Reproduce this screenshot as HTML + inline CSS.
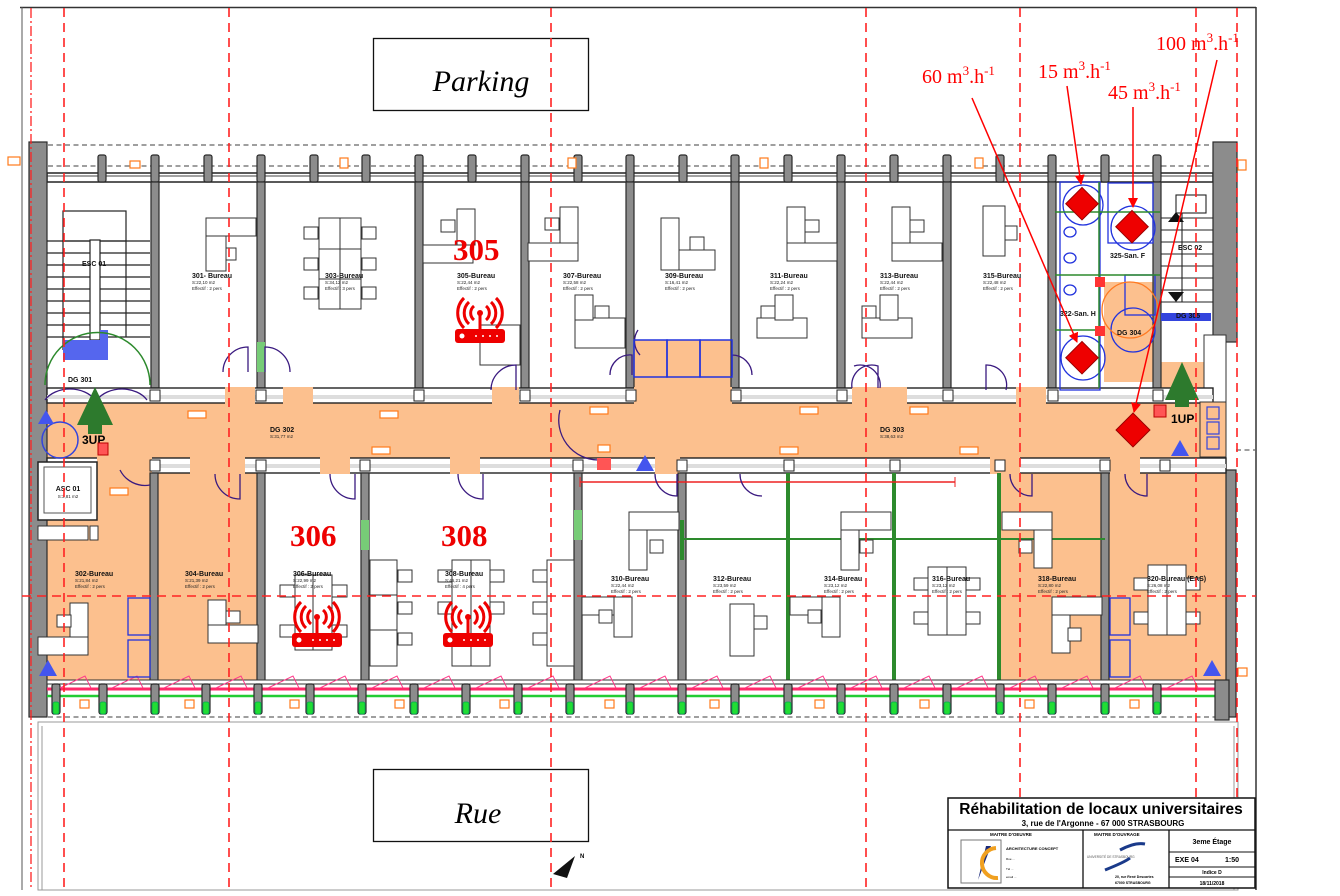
<!DOCTYPE html>
<html><head><meta charset="utf-8"><style>
html,body{margin:0;padding:0;background:#fff}
svg{display:block}
text{font-family:"Liberation Sans",sans-serif}
.w{fill:#8c8c8c;stroke:#2a2a2a;stroke-width:1.2}
.f{fill:#fff;stroke:#333;stroke-width:1}
.lb{font-size:7px;font-weight:bold;fill:#111}
.sm{font-size:4.5px;fill:#222}
.rd{fill:#e00;font-family:"Liberation Serif",serif;font-weight:bold;font-size:31px}
.an{fill:#f00;font-family:"Liberation Serif",serif;font-size:20px}
.dr{stroke:#f22;stroke-width:1.6;stroke-dasharray:9 6;fill:none}
.door{fill:none;stroke:#3a1a80;stroke-width:1.3}
</style></head><body>
<svg width="1340" height="896" viewBox="0 0 1340 896" xmlns="http://www.w3.org/2000/svg">
<defs>
<marker id="ah" markerWidth="10" markerHeight="10" refX="9" refY="5" orient="auto" markerUnits="userSpaceOnUse"><path d="M0,0 L10,5 L0,10 z" fill="#f00"/></marker>
<g id="wifi"><path d="M-6,-14 a9,9 0 0 0 0,14 M6,-14 a9,9 0 0 1 0,14 M-11,-18 a15,15 0 0 0 0,22 M11,-18 a15,15 0 0 1 0,22 M-16,-22 a21,21 0 0 0 0,30 M16,-22 a21,21 0 0 1 0,30" fill="none" stroke="#e00" stroke-width="3"/><circle cx="0" cy="-7" r="3" fill="#e00"/><rect x="-1.5" y="-7" width="3" height="16" fill="#e00"/><rect x="-25" y="9" width="50" height="14" rx="3" fill="#e00"/><circle cx="-18" cy="16" r="2.5" fill="#fff"/><g fill="#fff"><circle cx="-4" cy="16" r="1"/><circle cx="3" cy="16" r="1"/><circle cx="10" cy="16" r="1"/><circle cx="17" cy="16" r="1"/></g></g>
<g id="pt"><rect x="-4" y="0" width="8" height="27" rx="2" class="w"/></g>
<g id="pb"><rect x="-4" y="0" width="8" height="30" rx="2" class="w"/><rect x="-3" y="18" width="6" height="12" rx="2" fill="#22dd33" stroke="#0a5" stroke-width=".8"/></g>
<g id="dk"><rect x="0" y="0" width="26" height="50" class="f"/><rect x="-26" y="0" width="52" height="18" class="f"/><rect x="26" y="26" width="10" height="14" class="f"/></g>
</defs>

<!-- outer frame -->
<line x1="20" y1="7.5" x2="1256" y2="7.5" stroke="#333" stroke-width="1.5"/>
<line x1="22" y1="7" x2="22" y2="890" stroke="#555" stroke-width="1"/>
<line x1="1256" y1="7" x2="1256" y2="890" stroke="#333" stroke-width="1.5"/>

<!-- Parking / Rue -->
<rect x="373.5" y="38.5" width="215" height="72" fill="#fff" stroke="#111" stroke-width="1.3"/>
<text x="481" y="91" text-anchor="middle" style="font-family:'Liberation Serif',serif;font-style:italic;font-size:30px">Parking</text>
<rect x="373.5" y="769.5" width="215" height="72" fill="#fff" stroke="#111" stroke-width="1.3"/>
<text x="478" y="823" text-anchor="middle" style="font-family:'Liberation Serif',serif;font-style:italic;font-size:30px">Rue</text>

<!-- grey dashed facade lines -->
<g stroke="#666" stroke-width="1.3" stroke-dasharray="5 3.5">
<line x1="48" y1="145" x2="1215" y2="145"/><line x1="48" y1="166" x2="1215" y2="166"/>
<line x1="48" y1="717" x2="1228" y2="717"/>
<line x1="1236" y1="450" x2="1256" y2="450"/>
</g>

<!-- corridor & orange rooms -->
<rect x="47" y="403" width="1166" height="58" fill="#fcc08e"/>
<rect x="47" y="520" width="107" height="162" fill="#fcc08e"/>
<rect x="47" y="461" width="110" height="60" fill="#fcc08e"/>
<rect x="158" y="473" width="103" height="209" fill="#fcc08e"/>
<rect x="1000" y="473" width="105" height="209" fill="#fcc08e"/>
<rect x="1105" y="473" width="121" height="209" fill="#fcc08e"/>
<rect x="1157" y="362" width="56" height="45" fill="#fcc08e"/>
<rect x="1104" y="282" width="50" height="100" fill="#fcc08e"/>
<rect x="634" y="340" width="98" height="50" fill="#fcc08e"/>

<!-- top wall -->
<rect x="47" y="173" width="1166" height="9" fill="#fff" stroke="#222" stroke-width="1.5"/>
<line x1="47" y1="176" x2="1213" y2="176" stroke="#444" stroke-width="1"/>
<!-- left and right outer walls -->
<rect x="29" y="142" width="18" height="575" class="w"/>
<rect x="1213" y="142" width="24" height="200" class="w"/>
<rect x="1226" y="470" width="10" height="247" class="w"/>
<rect x="1204" y="335" width="22" height="125" fill="#fff" stroke="#333"/>

<!-- top pillars -->
<g>
<use href="#pt" x="102" y="155"/><use href="#pt" x="155" y="155"/><use href="#pt" x="208" y="155"/><use href="#pt" x="261" y="155"/><use href="#pt" x="314" y="155"/><use href="#pt" x="366" y="155"/><use href="#pt" x="419" y="155"/><use href="#pt" x="472" y="155"/><use href="#pt" x="525" y="155"/><use href="#pt" x="578" y="155"/><use href="#pt" x="630" y="155"/><use href="#pt" x="683" y="155"/><use href="#pt" x="735" y="155"/><use href="#pt" x="788" y="155"/><use href="#pt" x="841" y="155"/><use href="#pt" x="894" y="155"/><use href="#pt" x="947" y="155"/><use href="#pt" x="1000" y="155"/><use href="#pt" x="1052" y="155"/><use href="#pt" x="1105" y="155"/><use href="#pt" x="1157" y="155"/>
</g>

<!-- top partitions -->
<g class="w">
<rect x="151" y="182" width="8" height="206"/><rect x="257" y="182" width="8" height="206"/><rect x="415" y="182" width="8" height="206"/><rect x="521" y="182" width="8" height="206"/><rect x="626" y="182" width="8" height="206"/><rect x="731" y="182" width="8" height="206"/><rect x="837" y="182" width="8" height="206"/><rect x="943" y="182" width="8" height="206"/><rect x="1048" y="182" width="8" height="206"/><rect x="1153" y="182" width="8" height="206"/>
</g>
<rect x="257" y="342" width="8" height="30" fill="#7c7"/>
<!-- corridor top wall -->
<g>
<rect x="47" y="388" width="1166" height="15" fill="#fff" stroke="#222" stroke-width="1.4"/>
<rect x="47" y="395" width="1166" height="4" fill="#ddd"/>
</g>
<!-- door openings (white gaps) -->
<g fill="#fcc08e">
<rect x="225" y="387" width="30" height="17"/><rect x="283" y="387" width="30" height="17"/><rect x="492" y="387" width="27" height="17"/><rect x="634" y="387" width="98" height="17"/><rect x="852" y="387" width="55" height="17"/><rect x="1016" y="387" width="30" height="17"/>
</g>
<!-- corridor bottom wall -->
<rect x="47" y="458" width="1179" height="15" fill="#fff" stroke="#222" stroke-width="1.4"/>
<rect x="47" y="464" width="1179" height="4" fill="#ddd"/>
<g fill="#fcc08e"><rect x="97" y="457" width="55" height="17"/><rect x="190" y="457" width="55" height="17"/><rect x="320" y="457" width="30" height="17"/><rect x="450" y="457" width="30" height="17"/><rect x="655" y="457" width="25" height="17"/><rect x="990" y="457" width="30" height="17"/><rect x="1110" y="457" width="30" height="17"/></g>

<!-- small X boxes on walls -->
<g fill="#fff" stroke="#222" stroke-width="1">
<rect x="150" y="390" width="10" height="11"/><rect x="256" y="390" width="10" height="11"/><rect x="414" y="390" width="10" height="11"/><rect x="520" y="390" width="10" height="11"/><rect x="626" y="390" width="10" height="11"/><rect x="731" y="390" width="10" height="11"/><rect x="837" y="390" width="10" height="11"/><rect x="943" y="390" width="10" height="11"/><rect x="1048" y="390" width="10" height="11"/><rect x="1153" y="390" width="10" height="11"/>
<rect x="150" y="460" width="10" height="11"/><rect x="256" y="460" width="10" height="11"/><rect x="360" y="460" width="10" height="11"/><rect x="573" y="460" width="10" height="11"/><rect x="677" y="460" width="10" height="11"/><rect x="784" y="460" width="10" height="11"/><rect x="890" y="460" width="10" height="11"/><rect x="995" y="460" width="10" height="11"/><rect x="1100" y="460" width="10" height="11"/><rect x="1160" y="460" width="10" height="11"/>
</g>

<!-- bottom partitions -->
<g class="w">
<rect x="150" y="473" width="8" height="210"/><rect x="257" y="473" width="8" height="210"/><rect x="361" y="473" width="8" height="210"/><rect x="574" y="473" width="8" height="210"/><rect x="678" y="473" width="8" height="210"/><rect x="1101" y="473" width="8" height="210"/>
</g>
<g fill="#2d8a2d"><rect x="786" y="473" width="4" height="210"/><rect x="892" y="473" width="4" height="210"/><rect x="997" y="473" width="4" height="210"/><rect x="680" y="520" width="4" height="40"/></g>
<rect x="361" y="520" width="8" height="30" fill="#7c7"/><rect x="574" y="510" width="8" height="30" fill="#7c7"/>
<line x1="682" y1="539" x2="1105" y2="539" stroke="#2d8a2d" stroke-width="2"/>
<line x1="580" y1="482" x2="955" y2="482" stroke="#e22" stroke-width="1.5"/>
<line x1="580" y1="477" x2="580" y2="487" stroke="#e22"/><line x1="955" y1="477" x2="955" y2="487" stroke="#e22"/>

<!-- bottom facade -->
<rect x="47" y="680" width="1180" height="4" fill="#fff" stroke="#333" stroke-width="1"/>
<line x1="47" y1="689" x2="1226" y2="689" stroke="#ff2a6a" stroke-width="3"/>
<line x1="47" y1="696" x2="1226" y2="696" stroke="#22cc33" stroke-width="2.5"/>
<g>
<use href="#pb" x="56" y="684"/><use href="#pb" x="103" y="684"/><use href="#pb" x="155" y="684"/><use href="#pb" x="206" y="684"/><use href="#pb" x="258" y="684"/><use href="#pb" x="310" y="684"/><use href="#pb" x="362" y="684"/><use href="#pb" x="414" y="684"/><use href="#pb" x="466" y="684"/><use href="#pb" x="518" y="684"/><use href="#pb" x="570" y="684"/><use href="#pb" x="630" y="684"/><use href="#pb" x="682" y="684"/><use href="#pb" x="735" y="684"/><use href="#pb" x="788" y="684"/><use href="#pb" x="841" y="684"/><use href="#pb" x="894" y="684"/><use href="#pb" x="947" y="684"/><use href="#pb" x="1000" y="684"/><use href="#pb" x="1052" y="684"/><use href="#pb" x="1105" y="684"/><use href="#pb" x="1157" y="684"/>
</g>
<rect x="1215" y="680" width="14" height="40" class="w"/>
<!-- pink window swings -->
<g fill="none" stroke="#ff3a8a" stroke-width="1">
<path d="M60,688 l25,-12 l6,12 M112,688 l25,-12 l6,12 M164,688 l25,-12 l6,12 M216,688 l25,-12 l6,12 M268,688 l25,-12 l6,12 M320,688 l25,-12 l6,12 M372,688 l25,-12 l6,12 M424,688 l25,-12 l6,12 M476,688 l25,-12 l6,12 M528,688 l25,-12 l6,12 M585,688 l25,-12 l6,12 M640,688 l25,-12 l6,12 M692,688 l25,-12 l6,12 M745,688 l25,-12 l6,12 M798,688 l25,-12 l6,12 M851,688 l25,-12 l6,12 M904,688 l25,-12 l6,12 M957,688 l25,-12 l6,12 M1010,688 l25,-12 l6,12 M1062,688 l25,-12 l6,12 M1115,688 l25,-12 l6,12 M1167,688 l25,-12 l6,12"/>
</g>
<!-- bottom ground lines -->
<rect x="38" y="722" width="1200" height="168" fill="none" stroke="#999" stroke-width="1"/>
<line x1="42" y1="726" x2="42" y2="890" stroke="#999"/><line x1="1234" y1="726" x2="1234" y2="890" stroke="#999"/>

<!-- left stair -->
<g stroke="#222" stroke-width="1.2" fill="none">
<rect x="63" y="211" width="63" height="30"/>
<path d="M47,241 h103 M47,253 h103 M47,265 h103 M47,277 h103 M47,289 h103 M47,301 h103 M47,313 h103 M47,325 h103 M47,337 h103"/>
<line x1="63" y1="241" x2="63" y2="350"/><line x1="126" y1="241" x2="126" y2="337"/>
<rect x="90" y="240" width="10" height="100" fill="#fff"/>
</g>
<path d="M63,340 h37 v-10 h8 v30 h-45 z" fill="#5566ee"/>
<path d="M45,385 a50,50 0 0 1 105,0" fill="none" stroke="#2d8a2d" stroke-width="1.5"/>
<path d="M45,400 a28,20 0 0 1 50,0 M97,400 a28,20 0 0 1 50,0" class="door"/>
<rect x="38" y="462" width="59" height="58" fill="#fff" stroke="#222" stroke-width="1.5"/>
<rect x="44" y="467" width="47" height="46" fill="#fff" stroke="#555"/>
<text x="68" y="491" class="lb" text-anchor="middle">ASC 01</text>
<text x="68" y="498" class="sm" text-anchor="middle">S:3,81 m2</text>
<rect x="38" y="526" width="50" height="14" fill="#fff" stroke="#333"/><rect x="90" y="526" width="8" height="14" fill="#fff" stroke="#333"/>
<text x="82" y="266" class="lb">ESC 01</text>
<text x="68" y="382" class="lb">DG 301</text>
<!-- 3UP arrow -->
<path d="M95,387 l18,38 h-36 z" fill="#2d7a2d"/><rect x="88" y="420" width="14" height="14" fill="#2d7a2d"/>
<circle cx="60" cy="440" r="18" fill="none" stroke="#3344dd" stroke-width="1.5"/>
<text x="82" y="444" style="font-size:12px;font-weight:bold">3UP</text>
<rect x="98" y="443" width="10" height="12" fill="#f55" stroke="#b00"/>
<path d="M46,410 l8,14 h-16 z" fill="#4455ee"/>
<path d="M48,660 l9,16 h-18 z" fill="#4455ee"/><path d="M1212,660 l9,16 h-18 z" fill="#4455ee"/><path d="M1180,440 l9,16 h-18 z" fill="#4455ee"/><path d="M645,455 l9,16 h-18 z" fill="#4455ee"/>

<!-- right stair -->
<g stroke="#222" stroke-width="1.1" fill="none">
<rect x="1176" y="195" width="30" height="18"/>
<path d="M1161,218 h52 M1161,230 h52 M1161,242 h52 M1161,254 h52 M1161,266 h52 M1161,278 h52 M1161,290 h52 M1161,302 h52"/>
<line x1="1182" y1="213" x2="1182" y2="302"/>
</g>
<path d="M1168,222 l8,-10 l8,10 z M1168,292 l8,10 l8,-10z" fill="#111"/>
<text x="1178" y="250" class="lb">ESC 02</text>
<rect x="1161" y="313" width="50" height="8" fill="#3344dd"/>
<text x="1176" y="318" class="lb">DG 305</text>
<!-- 1UP -->
<path d="M1182,362 l17,38 h-34 z" fill="#2d7a2d"/><rect x="1175" y="395" width="14" height="12" fill="#2d7a2d"/>
<text x="1171" y="423" style="font-size:12px;font-weight:bold">1UP</text>
<rect x="1154" y="405" width="12" height="12" fill="#f55" stroke="#b00"/>
<rect x="1200" y="402" width="26" height="55" fill="#fcc08e" stroke="#333"/>
<g fill="none" stroke="#3344dd" stroke-width="1.2"><rect x="1207" y="407" width="12" height="12"/><rect x="1207" y="422" width="12" height="12"/><rect x="1207" y="437" width="12" height="12"/></g>

<!-- sanitaires -->
<g fill="none" stroke="#2233dd" stroke-width="1.3">
<rect x="1060" y="182" width="40" height="208"/>
<rect x="1108" y="183" width="45" height="60"/>
<rect x="1125" y="275" width="30" height="40"/>
<circle cx="1083" cy="205" r="20"/><circle cx="1133" cy="228" r="22"/><circle cx="1083" cy="358" r="22"/><circle cx="1133" cy="330" r="22"/>
<ellipse cx="1070" cy="232" rx="6" ry="5"/><ellipse cx="1070" cy="258" rx="6" ry="5"/><ellipse cx="1070" cy="290" rx="6" ry="5"/>
</g>
<g stroke="#2d8a2d" stroke-width="1.5"><line x1="1055" y1="212" x2="1160" y2="212"/><line x1="1055" y1="275" x2="1160" y2="275"/><line x1="1055" y1="330" x2="1105" y2="330"/><line x1="1099" y1="182" x2="1099" y2="388"/></g>
<circle cx="1130" cy="310" r="28" fill="none" stroke="#ff7a22" stroke-width="1.3"/>
<text x="1117" y="335" class="lb">DG 304</text>
<text x="1110" y="258" class="lb">325-San. F</text>
<text x="1060" y="316" class="lb">322-San. H</text>
<rect x="1095" y="277" width="10" height="10" fill="#f33"/><rect x="1095" y="326" width="10" height="10" fill="#f33"/>

<!-- furniture top rooms -->
<g class="f">
<rect x="206" y="218" width="50" height="18"/><rect x="206" y="236" width="20" height="35"/><rect x="226" y="248" width="10" height="12"/>
<rect x="319" y="218" width="42" height="91"/><line x1="340" y1="218" x2="340" y2="309"/><line x1="319" y1="249" x2="361" y2="249"/><line x1="319" y1="279" x2="361" y2="279"/>
<rect x="304" y="227" width="14" height="12"/><rect x="362" y="227" width="14" height="12"/><rect x="304" y="258" width="14" height="12"/><rect x="362" y="258" width="14" height="12"/><rect x="304" y="287" width="14" height="12"/><rect x="362" y="287" width="14" height="12"/>
<rect x="423" y="245" width="50" height="18"/><rect x="457" y="209" width="18" height="36"/><rect x="441" y="220" width="14" height="12"/>
<rect x="480" y="325" width="40" height="40"/>
<rect x="528" y="243" width="50" height="18"/><rect x="560" y="207" width="18" height="36"/><rect x="545" y="218" width="14" height="12"/>
<rect x="575" y="318" width="50" height="30"/><rect x="575" y="295" width="18" height="25"/><rect x="595" y="306" width="14" height="12"/>
<rect x="661" y="218" width="18" height="52"/><rect x="679" y="250" width="36" height="20"/><rect x="690" y="237" width="14" height="13"/>
<rect x="787" y="207" width="18" height="52"/><rect x="787" y="243" width="50" height="18"/><rect x="805" y="220" width="14" height="12"/>
<rect x="757" y="318" width="50" height="20"/><rect x="775" y="295" width="18" height="25"/><rect x="761" y="306" width="14" height="12"/>
<rect x="892" y="207" width="18" height="52"/><rect x="892" y="243" width="50" height="18"/><rect x="910" y="220" width="14" height="12"/>
<rect x="862" y="318" width="50" height="20"/><rect x="880" y="295" width="18" height="25"/><rect x="862" y="306" width="14" height="12"/>
<rect x="983" y="206" width="22" height="50"/><rect x="1005" y="226" width="12" height="14"/>
</g>
<!-- door swings top -->
<g class="door">
<path d="M223,372 a25,25 0 0 1 25,-25 v25 M290,372 a25,25 0 0 0 -25,-25 v25 M491,390 a25,25 0 0 1 25,-25 v25 M610,375 a20,20 0 0 1 22,-20 v20 M752,375 a20,20 0 0 0 -20,-20 v20 M640,355 a20,20 0 0 1 -2,-25 M852,388 a20,20 0 0 1 26,-22 v22 M880,388 a20,20 0 0 0 -26,-22 M1006,390 a20,20 0 0 0 -20,-25 v25"/>
<path d="M120,470 a28,28 0 0 0 30,15 M215,474 a25,25 0 0 0 25,25 v-25 M330,474 a25,25 0 0 0 25,25 v-25 M458,474 a25,25 0 0 0 25,25 v-25 M655,474 a22,22 0 0 0 22,22 v-22 M740,474 a22,22 0 0 0 22,22 M1010,474 a22,22 0 0 0 22,22 v-22 M1125,474 a22,22 0 0 0 22,22 v-22 M560,410 a40,40 0 0 0 38,50"/>
</g>
<g fill="none" stroke="#2233dd" stroke-width="1.5"><rect x="634" y="340" width="33" height="37"/><rect x="667" y="340" width="33" height="37"/><rect x="700" y="340" width="32" height="37"/></g>

<!-- furniture bottom rooms -->
<g class="f">
<rect x="70" y="603" width="18" height="38"/><rect x="38" y="640" width="50" height="18" style="display:none"/><rect x="38" y="637" width="50" height="18"/><rect x="57" y="615" width="14" height="12"/>
<rect x="208" y="600" width="18" height="38"/><rect x="208" y="625" width="50" height="18"/><rect x="226" y="611" width="14" height="12"/>
<rect x="295" y="575" width="37" height="75"/><line x1="313" y1="575" x2="313" y2="650"/>
<rect x="280" y="585" width="15" height="12"/><rect x="332" y="585" width="15" height="12"/><rect x="280" y="625" width="15" height="12"/><rect x="332" y="625" width="15" height="12"/>
<rect x="370" y="560" width="27" height="106"/><line x1="370" y1="595" x2="397" y2="595"/><line x1="370" y1="630" x2="397" y2="630"/>
<rect x="398" y="570" width="14" height="12"/><rect x="398" y="602" width="14" height="12"/><rect x="398" y="633" width="14" height="12"/>
<rect x="452" y="560" width="38" height="106"/><line x1="471" y1="560" x2="471" y2="666"/>
<rect x="438" y="570" width="14" height="12"/><rect x="490" y="570" width="14" height="12"/><rect x="438" y="602" width="14" height="12"/><rect x="490" y="602" width="14" height="12"/>
<rect x="547" y="560" width="27" height="106"/><rect x="533" y="570" width="14" height="12"/><rect x="533" y="602" width="14" height="12"/><rect x="533" y="633" width="14" height="12"/>
<rect x="629" y="512" width="50" height="18"/><rect x="629" y="530" width="18" height="40"/><rect x="650" y="540" width="13" height="13"/>
<rect x="582" y="597" width="50" height="18"/><rect x="614" y="597" width="18" height="40"/><rect x="599" y="610" width="13" height="13"/>
<rect x="730" y="604" width="24" height="52"/><rect x="754" y="616" width="13" height="13"/>
<rect x="841" y="512" width="50" height="18"/><rect x="841" y="530" width="18" height="40"/><rect x="860" y="540" width="13" height="13"/>
<rect x="790" y="597" width="50" height="18"/><rect x="822" y="597" width="18" height="40"/><rect x="808" y="610" width="13" height="13"/>
<rect x="928" y="567" width="38" height="68"/><line x1="947" y1="567" x2="947" y2="635"/>
<rect x="914" y="578" width="14" height="12"/><rect x="966" y="578" width="14" height="12"/><rect x="914" y="612" width="14" height="12"/><rect x="966" y="612" width="14" height="12"/>
<rect x="1002" y="512" width="50" height="18"/><rect x="1034" y="530" width="18" height="38"/><rect x="1019" y="540" width="13" height="13"/>
<rect x="1052" y="597" width="50" height="18"/><rect x="1052" y="615" width="18" height="38"/><rect x="1068" y="628" width="13" height="13"/>
<rect x="1148" y="565" width="38" height="70"/><line x1="1167" y1="565" x2="1167" y2="635"/>
<rect x="1134" y="578" width="14" height="12"/><rect x="1186" y="578" width="14" height="12"/><rect x="1134" y="612" width="14" height="12"/><rect x="1186" y="612" width="14" height="12"/>
</g>
<g fill="none" stroke="#2233dd" stroke-width="1.3"><rect x="128" y="598" width="22" height="37"/><rect x="128" y="640" width="22" height="37"/><rect x="1110" y="598" width="20" height="37"/><rect x="1110" y="640" width="20" height="37"/></g>

<!-- orange small tags -->
<g fill="#fff" stroke="#ff7a1a" stroke-width="1.2">
<rect x="8" y="157" width="12" height="8"/><rect x="130" y="161" width="10" height="7"/><rect x="340" y="158" width="8" height="10"/><rect x="568" y="158" width="8" height="10"/><rect x="760" y="158" width="8" height="10"/><rect x="975" y="158" width="8" height="10"/><rect x="1238" y="160" width="8" height="10"/>
<rect x="188" y="411" width="18" height="7"/><rect x="380" y="411" width="18" height="7"/><rect x="590" y="407" width="18" height="7"/><rect x="800" y="407" width="18" height="7"/><rect x="910" y="407" width="18" height="7"/>
<rect x="110" y="488" width="18" height="7"/><rect x="372" y="447" width="18" height="7"/><rect x="598" y="445" width="12" height="7"/><rect x="780" y="447" width="18" height="7"/><rect x="960" y="447" width="18" height="7"/>
<rect x="80" y="700" width="9" height="8"/><rect x="185" y="700" width="9" height="8"/><rect x="290" y="700" width="9" height="8"/><rect x="395" y="700" width="9" height="8"/><rect x="500" y="700" width="9" height="8"/><rect x="605" y="700" width="9" height="8"/><rect x="710" y="700" width="9" height="8"/><rect x="815" y="700" width="9" height="8"/><rect x="920" y="700" width="9" height="8"/><rect x="1025" y="700" width="9" height="8"/><rect x="1130" y="700" width="9" height="8"/><rect x="1238" y="668" width="9" height="8"/>
</g>
<rect x="597" y="458" width="14" height="12" fill="#f55"/>

<!-- room labels -->
<g>
<text x="192" y="278" class="lb">301- Bureau</text><text x="192" y="284" class="sm">S:22,10 m2</text><text x="192" y="290" class="sm">Effectif : 2 pers</text>
<text x="325" y="278" class="lb">303-Bureau</text><text x="325" y="284" class="sm">S:34,12 m2</text><text x="325" y="290" class="sm">Effectif : 3 pers</text>
<text x="457" y="278" class="lb">305-Bureau</text><text x="457" y="284" class="sm">S:22,44 m2</text><text x="457" y="290" class="sm">Effectif : 2 pers</text>
<text x="563" y="278" class="lb">307-Bureau</text><text x="563" y="284" class="sm">S:22,58 m2</text><text x="563" y="290" class="sm">Effectif : 2 pers</text>
<text x="665" y="278" class="lb">309-Bureau</text><text x="665" y="284" class="sm">S:16,41 m2</text><text x="665" y="290" class="sm">Effectif : 2 pers</text>
<text x="770" y="278" class="lb">311-Bureau</text><text x="770" y="284" class="sm">S:22,24 m2</text><text x="770" y="290" class="sm">Effectif : 2 pers</text>
<text x="880" y="278" class="lb">313-Bureau</text><text x="880" y="284" class="sm">S:22,44 m2</text><text x="880" y="290" class="sm">Effectif : 2 pers</text>
<text x="983" y="278" class="lb">315-Bureau</text><text x="983" y="284" class="sm">S:22,48 m2</text><text x="983" y="290" class="sm">Effectif : 2 pers</text>
<text x="75" y="576" class="lb">302-Bureau</text><text x="75" y="582" class="sm">S:21,84 m2</text><text x="75" y="588" class="sm">Effectif : 2 pers</text>
<text x="185" y="576" class="lb">304-Bureau</text><text x="185" y="582" class="sm">S:21,39 m2</text><text x="185" y="588" class="sm">Effectif : 2 pers</text>
<text x="293" y="576" class="lb">306-Bureau</text><text x="293" y="582" class="sm">S:22,99 m2</text><text x="293" y="588" class="sm">Effectif : 2 pers</text>
<text x="445" y="576" class="lb">308-Bureau</text><text x="445" y="582" class="sm">S:45,21 m2</text><text x="445" y="588" class="sm">Effectif : 4 pers</text>
<text x="611" y="581" class="lb">310-Bureau</text><text x="611" y="587" class="sm">S:22,44 m2</text><text x="611" y="593" class="sm">Effectif : 2 pers</text>
<text x="713" y="581" class="lb">312-Bureau</text><text x="713" y="587" class="sm">S:23,59 m2</text><text x="713" y="593" class="sm">Effectif : 2 pers</text>
<text x="824" y="581" class="lb">314-Bureau</text><text x="824" y="587" class="sm">S:23,12 m2</text><text x="824" y="593" class="sm">Effectif : 2 pers</text>
<text x="932" y="581" class="lb">316-Bureau</text><text x="932" y="587" class="sm">S:23,12 m2</text><text x="932" y="593" class="sm">Effectif : 2 pers</text>
<text x="1038" y="581" class="lb">318-Bureau</text><text x="1038" y="587" class="sm">S:22,80 m2</text><text x="1038" y="593" class="sm">Effectif : 2 pers</text>
<text x="1147" y="581" class="lb">320-Bureau (EAS)</text><text x="1147" y="587" class="sm">S:26,08 m2</text><text x="1147" y="593" class="sm">Effectif : 2 pers</text>
<text x="270" y="432" class="lb">DG 302</text><text x="270" y="438" class="sm">S:31,77 m2</text>
<text x="880" y="432" class="lb">DG 303</text><text x="880" y="438" class="sm">S:38,63 m2</text>
</g>

<!-- red dashed grid -->
<g class="dr">
<line x1="64" y1="8" x2="64" y2="890"/><line x1="229" y1="8" x2="229" y2="890"/><line x1="551" y1="8" x2="551" y2="890"/><line x1="866" y1="8" x2="866" y2="890"/><line x1="1020" y1="8" x2="1020" y2="890"/><line x1="1196" y1="8" x2="1196" y2="890"/><line x1="1237" y1="8" x2="1237" y2="890"/>
<line x1="22" y1="596" x2="1256" y2="596"/>
</g>
<line x1="31" y1="8" x2="31" y2="890" stroke="#f22" stroke-width="1.3" stroke-dasharray="10 3 2 3"/>

<!-- big labels & wifi -->
<text x="453" y="260" class="rd">305</text>
<text x="290" y="546" class="rd">306</text>
<text x="441" y="546" class="rd">308</text>
<use href="#wifi" x="480" y="320"/>
<use href="#wifi" x="317" y="624"/>
<use href="#wifi" x="468" y="624"/>

<!-- annotations -->
<g>
<text x="922" y="83" class="an">60 m<tspan font-size="13" dy="-8">3</tspan><tspan dy="8">.h</tspan><tspan font-size="13" dy="-8">-1</tspan></text>
<text x="1038" y="78" class="an">15 m<tspan font-size="13" dy="-8">3</tspan><tspan dy="8">.h</tspan><tspan font-size="13" dy="-8">-1</tspan></text>
<text x="1108" y="99" class="an">45 m<tspan font-size="13" dy="-8">3</tspan><tspan dy="8">.h</tspan><tspan font-size="13" dy="-8">-1</tspan></text>
<text x="1156" y="50" class="an">100 m<tspan font-size="13" dy="-8">3</tspan><tspan dy="8">.h</tspan><tspan font-size="13" dy="-8">-1</tspan></text>
</g>
<g stroke="#f00" stroke-width="1.5" marker-end="url(#ah)">
<line x1="972" y1="98" x2="1077" y2="342"/>
<line x1="1067" y1="86" x2="1081" y2="184"/>
<line x1="1133" y1="107" x2="1133" y2="207"/>
<line x1="1217" y1="60" x2="1134" y2="412"/>
</g>
<g fill="#e00" stroke="#900" stroke-width="1">
<rect x="1071" y="192" width="23" height="23" transform="rotate(45 1082 203)"/>
<rect x="1121" y="215" width="23" height="23" transform="rotate(45 1132 226)"/>
<rect x="1071" y="346" width="23" height="23" transform="rotate(45 1082 357)"/>
<rect x="1121" y="418" width="24" height="24" transform="rotate(45 1133 430)"/>
</g>

<!-- north arrow -->
<path d="M553,874 l22,-18 l-8,22 z" fill="#111"/>
<text x="580" y="858" style="font-size:6px;font-weight:bold">N</text>

<!-- title block -->
<g>
<rect x="948" y="798" width="307" height="90" fill="#fff" stroke="#111" stroke-width="1.5"/>
<line x1="948" y1="830" x2="1255" y2="830" stroke="#111" stroke-width="1.3"/>
<line x1="1083" y1="830" x2="1083" y2="888" stroke="#111" stroke-width="1.3"/>
<line x1="1169" y1="830" x2="1169" y2="888" stroke="#111" stroke-width="1.3"/>
<line x1="1169" y1="852" x2="1255" y2="852" stroke="#111"/>
<line x1="1169" y1="867" x2="1255" y2="867" stroke="#111"/>
<line x1="1169" y1="877" x2="1255" y2="877" stroke="#111"/>
<text x="1101" y="814" text-anchor="middle" style="font-size:15.5px;font-weight:bold">Réhabilitation de locaux universitaires</text>
<text x="1103" y="826" text-anchor="middle" style="font-size:8px;font-weight:bold">3, rue de l'Argonne - 67 000 STRASBOURG</text>
<text x="990" y="836" style="font-size:4.5px;font-weight:bold">MAITRE D'OEUVRE</text>
<text x="1094" y="836" style="font-size:4.5px;font-weight:bold">MAITRE D'OUVRAGE</text>
<rect x="961" y="840" width="40" height="43" fill="#fff" stroke="#777"/>
<path d="M978,880 l8,-34 l5,0 z" fill="#1a2a7a"/><path d="M996,848 a14,14 0 1 0 2,30" fill="none" stroke="#f0a020" stroke-width="4"/>
<text x="1006" y="850" style="font-size:4px;font-weight:bold">ARCHITECTURE CONCEPT</text>
<text x="1006" y="860" style="font-size:3px">Rue ...</text><text x="1006" y="870" style="font-size:3px">Tél ...</text><text x="1006" y="878" style="font-size:3px">email ...</text>
<text x="1087" y="858" style="font-size:3.2px;fill:#555">UNIVERSITÉ DE STRASBOURG</text>
<path d="M1120,850 q15,-8 25,-6 M1105,870 q20,-8 25,-12" fill="none" stroke="#1a3a8a" stroke-width="3"/>
<text x="1115" y="878" style="font-size:3.5px;font-weight:bold">20, rue René Descartes</text>
<text x="1115" y="884" style="font-size:3.5px;font-weight:bold">67000 STRASBOURG</text>
<text x="1212" y="844" text-anchor="middle" style="font-size:7px;font-weight:bold">3eme Étage</text>
<text x="1175" y="862" style="font-size:7px;font-weight:bold">EXE 04</text><text x="1225" y="862" style="font-size:7px;font-weight:bold">1:50</text>
<text x="1212" y="874" text-anchor="middle" style="font-size:5px;font-weight:bold">Indice D</text>
<text x="1212" y="885" text-anchor="middle" style="font-size:5px;font-weight:bold">18/11/2018</text>
</g>
</svg>
</body></html>
